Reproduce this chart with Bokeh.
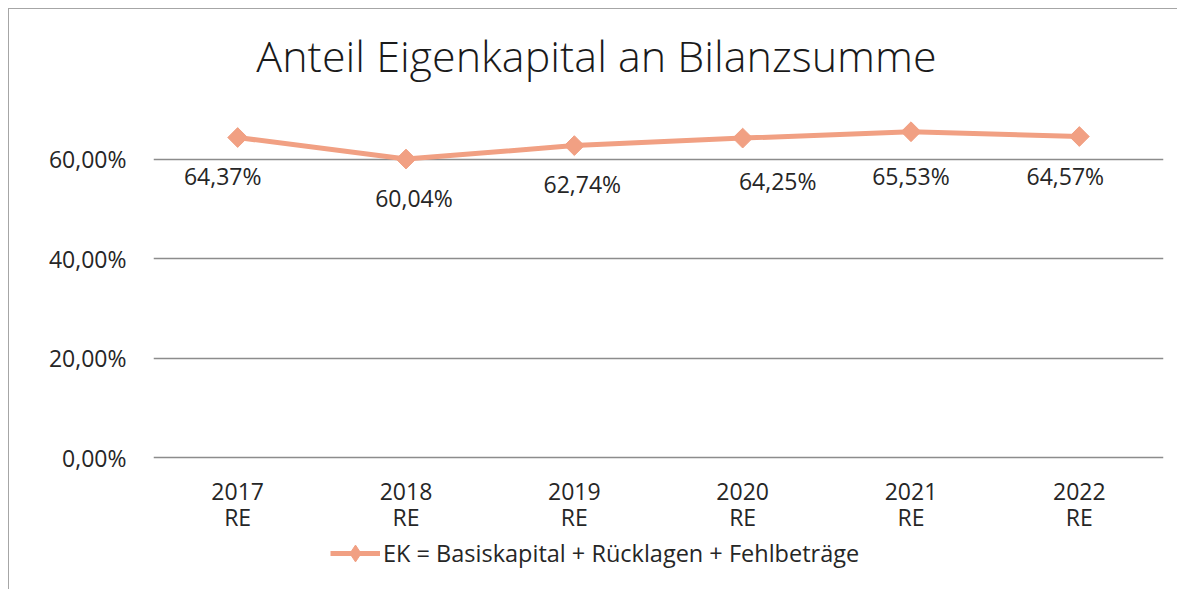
from bokeh.plotting import figure
from bokeh.models import Range1d, FixedTicker, Legend, LegendItem, Label
from bokeh.core.properties import value
from bokeh.embed import file_html
from bokeh.resources import INLINE

# ---- data ----
title = "Anteil Eigenkapital an Bilanzsumme"
years = ["2017", "2018", "2019", "2020", "2021", "2022"]
suffixes = ["RE", "RE", "RE", "RE", "RE", "RE"]
ek_share = [64.37, 60.04, 62.74, 64.25, 65.53, 64.57]
series_name = "EK = Basiskapital + Rücklagen + Fehlbeträge"
y_ticks = [0, 20, 40, 60]
y_tick_labels = ["0,00%", "20,00%", "40,00%", "60,00%"]

value_labels = [f"{v:.2f}".replace(".", ",") + "%" for v in ek_share]
baseline = [0] * len(years)

# ---- style: label nudges in px (manual placement as in the original) ----
label_dx = [-15, 8, 8, 35, 0, -14]
label_dy = [38, 38.5, 38, 42.5, 44, 39]

FONT = "Open Sans"
TITLE_FONT = "Open Sans Light, Open Sans"
LINE_COLOR = "#F1A083"
TEXT = "#262626"
GRID = "#8C8C8C"
FS = "23px"

# The frame fills the canvas vertically so that title, category labels and the
# legend can be drawn inside it; the value scale is 0..70 % between the
# baseline and the top of the original plot area.
p = figure(
    width=1169, height=581,
    x_range=years, y_range=Range1d(-26.75, 90.12),
    output_backend="svg", toolbar_location=None,
    min_border_left=144, min_border_right=15,
    min_border_top=0, min_border_bottom=0,
    styles={"margin-left": "8px", "margin-top": "8px",
            "border-left": "1px solid #A6A6A6", "border-top": "1px solid #A6A6A6"},
)
p.outline_line_color = None
p.background_fill_color = "white"
p.border_fill_color = "white"

# title (screen units relative to the frame's bottom-left corner)
p.add_layout(Label(x=443, y=535, x_units="screen", y_units="screen",
                   text=title, text_align="center", text_baseline="alphabetic",
                   text_font=TITLE_FONT, text_font_size="43px",
                   text_color="#1A1A1A"))

p.xaxis.visible = False
p.xgrid.visible = False
p.ygrid.grid_line_color = GRID
p.ygrid.grid_line_width = 1.5

p.yaxis.ticker = FixedTicker(ticks=y_ticks)
p.yaxis.major_label_overrides = {t: l for t, l in zip(y_ticks, y_tick_labels)}
p.yaxis.axis_line_color = None
p.yaxis.major_tick_line_color = None
p.yaxis.minor_tick_line_color = None
p.yaxis.major_label_text_font = FONT
p.yaxis.major_label_text_font_size = FS
p.yaxis.major_label_text_color = TEXT
p.yaxis.major_label_standoff = 21

# category labels (two lines) under the baseline
p.text(x=years, y=baseline, text=years, y_offset=34,
       text_align="center", text_baseline="middle",
       text_font=value(FONT), text_font_size=FS, text_color=TEXT)
p.text(x=years, y=baseline, text=suffixes, y_offset=59,
       text_align="center", text_baseline="middle",
       text_font=value(FONT), text_font_size=FS, text_color=TEXT)

line = p.line(years, ek_share, line_width=5, color=LINE_COLOR)
# diamond used as legend swatch (legend glyphs are never drawn rotated);
# it sits fully hidden under the rotated square markers
legend_marker = p.scatter(years, ek_share, marker="diamond", size=12, color=LINE_COLOR)
pts = p.scatter(years, ek_share, marker="square", size=14, angle=0.785398,
                color=LINE_COLOR)

p.text(x=years, y=ek_share, text=value_labels,
       x_offset=label_dx, y_offset=label_dy,
       text_align="center", text_baseline="middle",
       text_font=value(FONT), text_font_size=FS, text_color=TEXT)

legend = Legend(items=[LegendItem(label=series_name, renderers=[line, legend_marker])],
                location=(177, 16), orientation="horizontal",
                padding=0, margin=0, spacing=0,
                glyph_width=50, glyph_height=42, label_standoff=3,
                label_text_font=FONT, label_text_font_size="23.5px",
                label_text_color=TEXT,
                border_line_color=None, background_fill_alpha=0)
p.add_layout(legend)

open("out.html", "w").write(file_html(p, INLINE))
